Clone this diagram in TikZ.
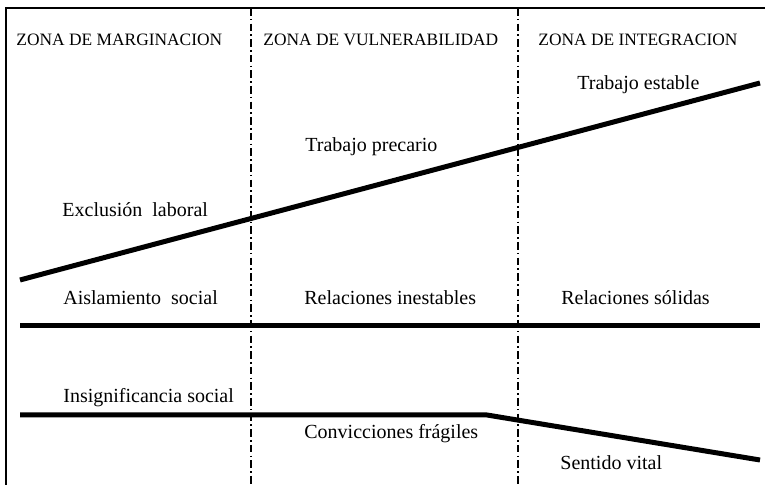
\documentclass[tikz,border=0pt]{standalone}
\usepackage{fontspec}
\setmainfont{Liberation Serif}
\usetikzlibrary{positioning}
\begin{document}
\begin{tikzpicture}[
        x=0.5pt, y=-0.5pt,
        zona/.style={anchor=west, inner sep=0pt,
                     font=\fontsize{8.7}{10}\selectfont},
        etiq/.style={anchor=west, inner sep=0pt,
                     font=\fontsize{10}{12}\selectfont},
        trazo/.style={line width=2.5pt},
        borde/.style={line width=0.7pt},
        divisor/.style={line width=0.6pt,
                        dash pattern=on 3.8pt off 1.6pt on 0.8pt off 1.6pt},
      ]
        \useasboundingbox (0,0) rectangle (765,485);
        % marco y divisiones
        \coordinate (esq) at (6,8);
        \coordinate (sup) at (765,8);
        \coordinate (inf) at (6,485);
        \draw[borde] (inf) -- (esq) -- (sup);
        \coordinate (d1a) at (251,8);
        \coordinate (d1b) at (251,485);
        \coordinate (d2a) at (518,8);
        \coordinate (d2b) at (518,485);
        \draw[divisor] (d1a) -- (d1b);
        \draw[divisor] (d2a) -- (d2b);
        % zonas
        \node[zona] (marg)  at (16,40)  {ZONA DE MARGINACION};
        \node[zona] (vuln)  at (263,40) {ZONA DE VULNERABILIDAD};
        \node[zona] (integ) at (538,40) {ZONA DE INTEGRACION};
        % trabajo
        \coordinate (t0) at (20,280);
        \coordinate (t1) at (760,83);
        \draw[trazo] (t0) -- (t1);
        \node[etiq] (estable)  at (577,85)  {Trabajo estable};
        \node[etiq] (precario) at (305,147) {Trabajo precario};
        \node[etiq] (exclu)    at (62,210)  {Exclusión\ \ laboral};
        % relaciones
        \coordinate (r0) at (20,326);
        \coordinate (r1) at (760,326);
        \draw[trazo] (r0) -- (r1);
        \node[etiq] (aisl)   at (63,298)  {Aislamiento\ \ social};
        \node[etiq] (inest)  at (304,298) {Relaciones inestables};
        \node[etiq] (solid)  at (561,298) {Relaciones sólidas};
        % sentido
        \coordinate (s0) at (20,415);
        \coordinate (s1) at (487,415);
        \coordinate (s2) at (760,460);
        \draw[trazo] (s0) -- (s1) -- (s2);
        \node[etiq] (insig)  at (63,398)  {Insignificancia social};
        \node[etiq] (convic) at (304,434) {Convicciones frágiles};
        \node[etiq] (vital)  at (560,463) {Sentido vital};
      \end{tikzpicture}
\end{document}
